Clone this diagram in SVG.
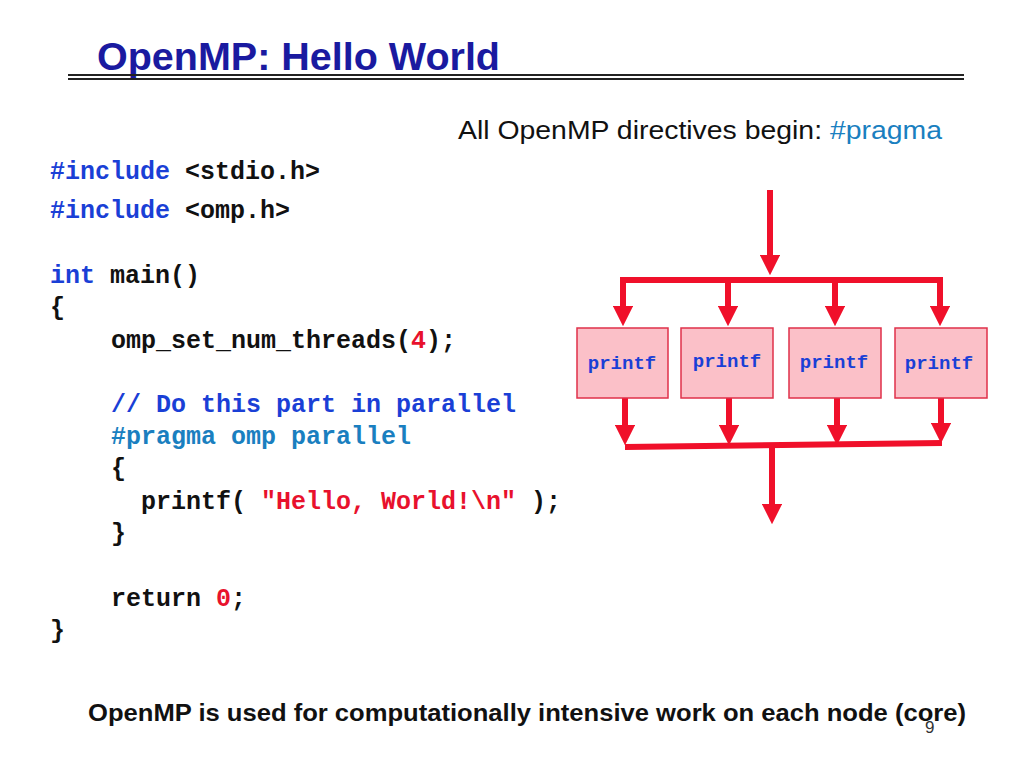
<svg xmlns="http://www.w3.org/2000/svg" width="1024" height="768" viewBox="0 0 1024 768">
<style>
.c{font-family:"Liberation Mono",monospace;font-weight:bold;font-size:25px;fill:#111}
.b{fill:#1a3fd6}.t{fill:#1a7fc0}.r{fill:#e8112d}
.box{fill:#fbc0c8;stroke:#e0304a;stroke-width:1.5}
.bl{font-family:"Liberation Mono",monospace;font-weight:bold;font-size:19px;fill:#1a3fd6}
.ln{stroke:#f0102a;stroke-width:6;fill:none}
</style>
<defs><marker id="a" markerWidth="3.4" markerHeight="3.4" refX="1.7" refY="1.7" orient="auto" markerUnits="strokeWidth"><path d="M0,0L3.4,1.7L0,3.4z" fill="#f0102a"/></marker></defs>
<rect width="1024" height="768" fill="#fff"/>
<text x="97" y="70" font-family="Liberation Sans,sans-serif" font-weight="bold" font-size="38" fill="#1a1aa0" textLength="403" lengthAdjust="spacingAndGlyphs">OpenMP: Hello World</text>
<line x1="68" y1="75" x2="964" y2="75" stroke="#222" stroke-width="2"/>
<line x1="68" y1="79" x2="964" y2="79" stroke="#222" stroke-width="2"/>
<text x="458" y="139" font-family="Liberation Sans,sans-serif" font-size="26" fill="#111" textLength="484" lengthAdjust="spacingAndGlyphs">All OpenMP directives begin: <tspan fill="#1a7fc0">#pragma</tspan></text>
<text class="c" x="50" y="179"><tspan class="b">#include</tspan> &lt;stdio.h&gt;</text>
<text class="c" x="50" y="218"><tspan class="b">#include</tspan> &lt;omp.h&gt;</text>
<text class="c" x="50" y="283"><tspan class="b">int</tspan> main()</text>
<text class="c" x="50" y="315">{</text>
<text class="c" x="111" y="348">omp_set_num_threads(<tspan class="r">4</tspan>);</text>
<text class="c b" x="111" y="412">// Do this part in parallel</text>
<text class="c t" x="111" y="444">#pragma omp parallel</text>
<text class="c" x="111" y="476">{</text>
<text class="c" x="141" y="509">printf( <tspan class="r">"Hello, World!\n"</tspan> );</text>
<text class="c" x="111" y="541">}</text>
<text class="c" x="111" y="606">return <tspan class="r">0</tspan>;</text>
<text class="c" x="50" y="638">}</text>
<g id="connectors">
<line class="ln" x1="770" y1="190" x2="770" y2="265" marker-end="url(#a)"/>
<polyline class="ln" points="623,318 623,280 940,280 940,318"/>
<line class="ln" x1="623" y1="300" x2="623" y2="316" marker-end="url(#a)"/>
<line class="ln" x1="940" y1="300" x2="940" y2="316" marker-end="url(#a)"/>
<line class="ln" x1="728" y1="280" x2="728" y2="316" marker-end="url(#a)"/>
<line class="ln" x1="835" y1="280" x2="835" y2="316" marker-end="url(#a)"/>
<line class="ln" x1="625" y1="398" x2="625" y2="435" marker-end="url(#a)"/>
<line class="ln" x1="729" y1="398" x2="729" y2="435" marker-end="url(#a)"/>
<line class="ln" x1="837" y1="398" x2="837" y2="435" marker-end="url(#a)"/>
<line class="ln" x1="941" y1="398" x2="941" y2="433" marker-end="url(#a)"/>
<line class="ln" x1="625" y1="447" x2="942" y2="443"/>
<line class="ln" x1="772" y1="445" x2="772" y2="514" marker-end="url(#a)"/>
</g>
<g id="n1"><rect class="box" x="577" y="328" width="91" height="70"/><text class="bl" x="622" y="369" text-anchor="middle">printf</text></g>
<g id="n2"><rect class="box" x="681" y="328" width="92" height="70"/><text class="bl" x="727" y="367" text-anchor="middle">printf</text></g>
<g id="n3"><rect class="box" x="789" y="328" width="92" height="70"/><text class="bl" x="834" y="368" text-anchor="middle">printf</text></g>
<g id="n4"><rect class="box" x="895" y="328" width="92" height="70"/><text class="bl" x="939" y="369" text-anchor="middle">printf</text></g>
<text x="88" y="721" font-family="Liberation Sans,sans-serif" font-weight="bold" font-size="23" fill="#111" textLength="878" lengthAdjust="spacingAndGlyphs">OpenMP is used for computationally intensive work on each node (core)</text>
<text x="925" y="733" font-family="Liberation Sans,sans-serif" font-size="17" fill="#333">9</text>
</svg>
